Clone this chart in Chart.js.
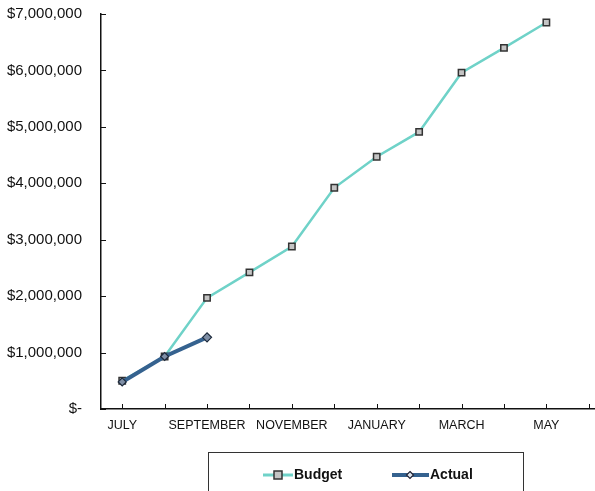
<!DOCTYPE html>
<html>
<head>
<meta charset="utf-8">
<style>
  html, body { margin: 0; padding: 0; background: #fff; overflow: hidden; }
  #wrap { width: 595px; height: 491px; overflow: hidden; }
  canvas { display: block; }
</style>
<script src="https://cdn.jsdelivr.net/npm/chart.js@4"></script>
</head>
<body>
<div id="wrap"><canvas id="c" width="616" height="491"></canvas></div>
<script>
// Fiscal-year months, July through June
const months = ['JULY', 'AUGUST', 'SEPTEMBER', 'OCTOBER', 'NOVEMBER', 'DECEMBER',
                'JANUARY', 'FEBRUARY', 'MARCH', 'APRIL', 'MAY', 'JUNE'];

// Cumulative budget and actual spend (dollars)
const budget = [500000, 930000, 1970000, 2420000, 2880000, 3920000,
                4470000, 4910000, 5960000, 6400000, 6850000, null];
const actual = [480000, 930000, 1270000, null, null, null,
                null, null, null, null, null, null];

const yTicks = [0, 1000000, 2000000, 3000000, 4000000, 5000000, 6000000, 7000000];

const BUDGET_LINE = '#6fd2c8';
const ACTUAL_LINE = '#35628f';
const FONT = '"Liberation Sans", Arial, sans-serif';

function money(v) {
  if (v === 0) return '$-';
  return '$' + v.toLocaleString('en-US');
}

// Short inward tick marks on both axes
const innerTicks = {
  id: 'innerTicks',
  afterDatasetsDraw(chart) {
    const { ctx, chartArea: a, scales: { x, y } } = chart;
    ctx.save();
    ctx.strokeStyle = '#111';
    ctx.lineWidth = 1;
    ctx.beginPath();
    y.ticks.forEach((t, i) => {
      const py = Math.round(y.getPixelForTick(i)) + 0.5;
      ctx.moveTo(a.left, py);
      ctx.lineTo(a.left + 5, py);
    });
    x.ticks.forEach((t, i) => {
      const px = Math.round(x.getPixelForTick(i)) + 0.5;
      ctx.moveTo(px, a.bottom);
      ctx.lineTo(px, a.bottom - 5);
    });
    ctx.stroke();
    ctx.restore();
  }
};

// Boxed legend below the axis
const boxLegend = {
  id: 'boxLegend',
  afterDraw(chart) {
    const { ctx } = chart;
    const ds = chart.data.datasets;
    ctx.save();
    ctx.strokeStyle = '#333';
    ctx.lineWidth = 1;
    ctx.strokeRect(208.5, 452.5, 315, 60);

    const cy = 475;
    // Budget entry
    ctx.strokeStyle = BUDGET_LINE;
    ctx.lineWidth = 3;
    ctx.beginPath(); ctx.moveTo(263, cy); ctx.lineTo(293, cy); ctx.stroke();
    ctx.fillStyle = '#c4c4c4';
    ctx.strokeStyle = '#333';
    ctx.lineWidth = 1.5;
    ctx.fillRect(274, cy - 4, 8, 8);
    ctx.strokeRect(274, cy - 4, 8, 8);
    // Actual entry
    ctx.strokeStyle = ACTUAL_LINE;
    ctx.lineWidth = 4;
    ctx.beginPath(); ctx.moveTo(392, cy); ctx.lineTo(429, cy); ctx.stroke();
    ctx.fillStyle = '#dfe6ee';
    ctx.strokeStyle = '#223';
    ctx.lineWidth = 1.2;
    ctx.beginPath();
    ctx.moveTo(410, cy - 3.5); ctx.lineTo(413.5, cy); ctx.lineTo(410, cy + 3.5); ctx.lineTo(406.5, cy);
    ctx.closePath(); ctx.fill(); ctx.stroke();

    ctx.fillStyle = '#111';
    ctx.font = 'bold 14px ' + FONT;
    ctx.textBaseline = 'middle';
    ctx.textAlign = 'left';
    ctx.fillText(ds[0].label, 294, cy);
    ctx.fillText(ds[1].label, 430, cy);
    ctx.restore();
  }
};

new Chart(document.getElementById('c'), {
  type: 'line',
  data: {
    labels: months,
    datasets: [
      {
        label: 'Budget',
        data: budget,
        borderColor: BUDGET_LINE,
        borderWidth: 2.5,
        pointStyle: 'rect',
        pointRadius: 4.5,
        pointBackgroundColor: '#c4c4c4',
        pointBorderColor: '#333',
        pointBorderWidth: 1.5,
        tension: 0,
        order: 2
      },
      {
        label: 'Actual',
        data: actual,
        borderColor: ACTUAL_LINE,
        borderWidth: 4,
        pointStyle: 'rectRot',
        pointRadius: [4, 4, 4.5],
        pointBackgroundColor: '#7f8fa6',
        pointBorderColor: '#1d2a3c',
        pointBorderWidth: 1.2,
        tension: 0,
        order: 1
      }
    ]
  },
  options: {
    responsive: false,
    animation: false,
    devicePixelRatio: 1,
    layout: { padding: { top: 14, left: 0, right: 0, bottom: 0 } },
    plugins: { legend: { display: false }, tooltip: { enabled: false } },
    scales: {
      x: {
        offset: true,
        grid: { display: false, drawTicks: false },
        border: { display: true, color: '#111', width: 1.5 },
        ticks: {
          autoSkip: false,
          maxRotation: 0,
          padding: 9,
          color: '#111',
          font: { family: FONT, size: 12.5 },
          callback: (v, i) => (i % 2 === 0 && i < 11 ? months[i] : '')
        },
        afterFit(s) { s.height = 82; s.paddingLeft = 0; s.paddingRight = 0; }
      },
      y: {
        min: 0,
        max: 7000000,
        afterBuildTicks(s) { s.ticks = yTicks.map(v => ({ value: v })); },
        grid: { display: false, drawTicks: false },
        border: { display: true, color: '#111', width: 1.5 },
        ticks: {
          padding: 19,
          color: '#111',
          font: { family: FONT, size: 15 },
          callback: v => money(v)
        },
        afterFit(s) { s.width = 101; s.paddingTop = 0; s.paddingBottom = 0; }
      }
    }
  },
  plugins: [innerTicks, boxLegend]
});
</script>
</body>
</html>
